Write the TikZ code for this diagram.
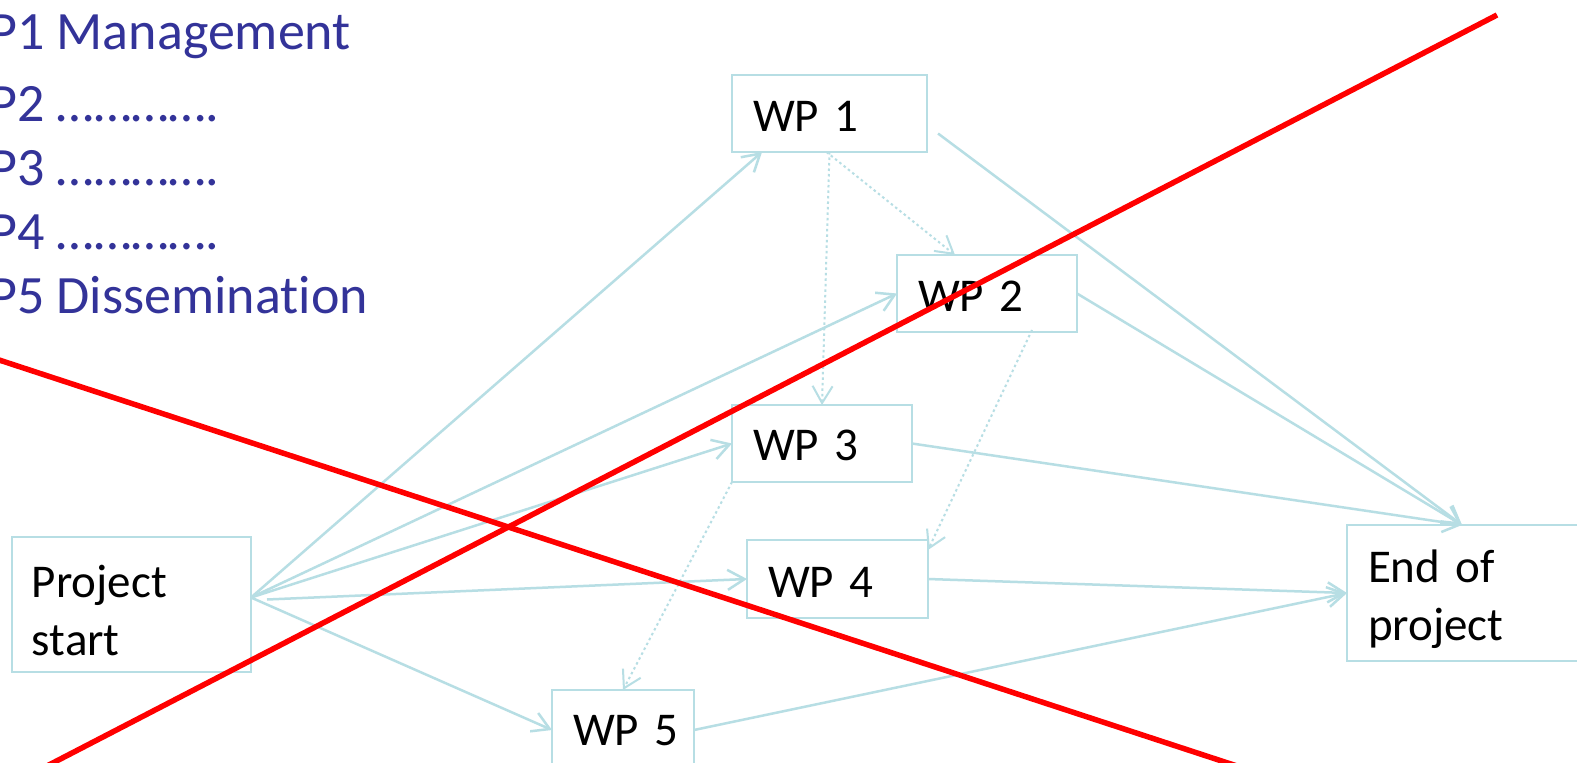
\documentclass[tikz,border=0pt]{standalone}
\usepackage{fontspec}
\setmainfont{Carlito}[Ligatures=NoCommon]
\usetikzlibrary{arrows.meta}
\definecolor{boxc}{RGB}{183,222,228}
\definecolor{listblue}{RGB}{51,51,153}
\definecolor{crossred}{RGB}{255,0,0}
\newcommand{\ind}[1]{\hspace*{#1}}
\begin{document}
\begin{tikzpicture}[x=1pt,y=-1pt,
  wpbox/.style={draw=boxc, line width=2.5pt, fill=white, rectangle, anchor=north west,
    align=left, inner xsep=0pt, inner ysep=0pt, outer sep=0pt,
    font=\fontsize{47}{57.5}\selectfont, text=black},
  link/.style={draw=boxc, line width=2.5pt, -{Straight Barb[length=17pt,width=20pt]}},
  dotlink/.style={link, line width=2pt, dash pattern=on 2.5pt off 3pt},
  cross/.style={draw=crossred, line width=5.5pt},
  listtext/.style={anchor=base west, inner sep=0pt, text=listblue,
    font=\fontsize{54}{64}\selectfont}]
\useasboundingbox (0,0) rectangle (1577,763);
\clip (0,0) rectangle (1577,763);
\fill[white] (0,0) rectangle (1577,763);

% list of work packages
\node[listtext] (l1) at (-59,49) {WP1 Management};
\node[listtext] (l2) at (-59,121) {WP2 ………….};
\node[listtext] (l3) at (-59,185) {WP3 ………….};
\node[listtext] (l4) at (-59,249) {WP4 ………….};
\node[listtext] (l5) at (-59,313) {WP5 Dissemination};

% boxes
\node[wpbox, minimum width=195pt, minimum height=77pt, text width=195pt] (wp1) at (732,75) {\ind{21pt}\rule{0pt}{35pt}WP 1};
\node[wpbox, minimum width=180pt, minimum height=77pt, text width=180pt] (wp2) at (897,255) {\ind{21pt}\rule{0pt}{35pt}WP 2};
\node[wpbox, minimum width=180pt, minimum height=77pt, text width=180pt] (wp3) at (732,405) {\ind{21pt}\rule{0pt}{35pt}WP 3};
\node[wpbox, minimum width=181pt, minimum height=78pt, text width=181pt] (wp4) at (747,540) {\ind{21pt}\rule{0pt}{36pt}WP 4};
\node[wpbox, minimum width=142pt, minimum height=80pt, text width=142pt] (wp5) at (552,690) {\ind{21pt}\rule{0pt}{31pt}WP 5};
\node[wpbox, minimum width=239pt, minimum height=135pt, text width=239pt] (ps) at (12,537) {\ind{20pt}\rule{0pt}{44pt}Project\\\ind{20pt}start};
\node[wpbox, minimum width=260pt, minimum height=136pt, text width=260pt] (end) at (1347,525) {\ind{21pt}\rule{0pt}{45pt}End of\\\ind{21pt}project};

% solid connectors
\draw[link] ([yshift=7pt]ps.east) -- ([xshift=30pt]wp1.south west);
\draw[link] ([yshift=7pt]ps.east) -- (wp2.west);
\draw[link] ([yshift=7pt]ps.east) -- (wp3.west);
\draw[link] ([xshift=16pt,yshift=5pt]ps.east) -- (wp4.west);
\draw[link] ([yshift=7pt]ps.east) -- (wp5.west);
\draw[link] ([xshift=11pt,yshift=-20pt]wp1.east) -- ([xshift=115pt]end.north west);
\draw[link] (wp2.east) -- ([xshift=115pt]end.north west);
\draw[link] (wp3.east) -- ([xshift=115pt]end.north west);
\draw[link] (wp4.east) -- (end.west);
\draw[link] (wp5.east) -- (end.west);

% dotted connectors
\draw[dotlink] (wp1.south) -- (wp3.north);
\draw[dotlink] ([xshift=-3pt]wp1.south) -- ([xshift=58pt]wp2.north west);
\draw[dotlink] ([xshift=-45pt,yshift=2pt]wp2.south east) -- ([yshift=-10pt]wp4.north east);
\draw[dotlink] (wp3.south west) -- (wp5.north);

% red cross
\coordinate (ra1) at (1497,15);
\coordinate (ra2) at (45,767);
\coordinate (rb1) at (-10,357);
\coordinate (rb2) at (1240,767);
\draw[cross] (ra1) -- (ra2);
\draw[cross] (rb1) -- (rb2);
\end{tikzpicture}
\end{document}
